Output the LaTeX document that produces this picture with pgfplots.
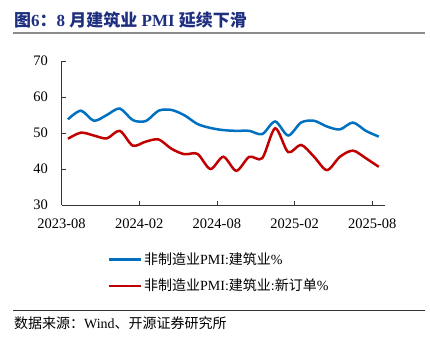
\documentclass[border=0pt]{standalone}
\usepackage{pgfplots}
\pgfplotsset{compat=1.18}
\usepackage{fontspec}
\setmainfont{Liberation Serif}
\newfontfamily\cjk{Noto Sans CJK SC}
\definecolor{tblue}{HTML}{1F2F7F}
\definecolor{lblue}{HTML}{0070C0}
\definecolor{lred}{HTML}{C00000}
\pgfplotstableread{
x blue red
0.5 53.8 48.4
1.5 56.2 50.1
2.5 53.4 49.3
3.5 55.0 48.5
4.5 56.8 50.6
5.5 53.6 46.5
6.5 53.3 47.6
7.5 56.2 48.2
8.5 56.4 45.6
9.5 54.9 44.1
10.5 52.5 44.2
11.5 51.4 40.0
12.5 50.8 43.4
13.5 50.6 39.5
14.5 50.6 43.4
15.5 49.7 43.0
16.5 53.2 51.3
17.5 49.3 44.7
18.5 52.9 46.7
19.5 53.4 43.4
20.5 51.8 39.7
21.5 51.0 43.4
22.5 52.9 45.1
23.5 50.6 43.0
24.5 49.0 40.6
}\pmidata
\begin{document}
\begin{tikzpicture}[x=1pt,y=1pt]
\path[use as bounding box] (0,0) rectangle (430,345);
\node[anchor=west, inner sep=0pt, text=tblue, font=\fontsize{17}{19}\selectfont\bfseries] at (14,325)
  {{\cjk 图}6{\cjk ：}8 {\cjk 月建筑业} PMI {\cjk 延续下滑}};
\draw[line width=2pt, black!45] (13,312) -- (425,312);
\begin{axis}[
  at={(61.5pt,140pt)}, anchor=south west,
  scale only axis, width=323.75pt, height=144pt,
  xmin=0, xmax=25, ymin=30, ymax=70,
  axis x line*=bottom, axis y line*=left,
  axis line style={black!80, line width=0.8pt},
  xtick={0,6,12,18,24},
  xticklabels={2023-08,2024-02,2024-08,2025-02,2025-08},
  ytick={30,40,50,60,70},
  major tick length=4pt,
  tick style={black!80, line width=0.8pt},
  /pgf/number format/assume math mode=true,
  ticklabel style={font=\fontsize{14.5}{16}\selectfont},
  yticklabel style={xshift=-10pt},
  xticklabel style={yshift=-10pt},
  legend style={at={(0.1436,-0.32)}, anchor=north west, draw=none, fill=none,
    inner sep=0pt, row sep=10pt, font=\fontsize{14}{16}\selectfont,
    nodes={inner sep=1.5pt}},
  legend cell align=left,
  legend image code/.code={\draw[#1, line width=2.5pt] (0pt,0pt) -- (32pt,0pt);},
]
\addplot[lblue, line width=2.5pt, smooth] table[x=x, y=blue] {\pmidata};
\addlegendentry{{\cjk 非制造业}PMI:{\cjk 建筑业}\%}
\addplot[lred, line width=2.5pt, smooth] table[x=x, y=red] {\pmidata};
\addlegendentry{{\cjk 非制造业}PMI:{\cjk 建筑业}:{\cjk 新订单}\%}
\end{axis}
\draw[line width=0.8pt, black!80] (13,35) -- (425,35);
\node[anchor=west, inner sep=0pt, font=\fontsize{14}{16}\selectfont] at (14,22)
  {{\cjk 数据来源：}Wind{\cjk 、开源证券研究所}};
\end{tikzpicture}
\end{document}
